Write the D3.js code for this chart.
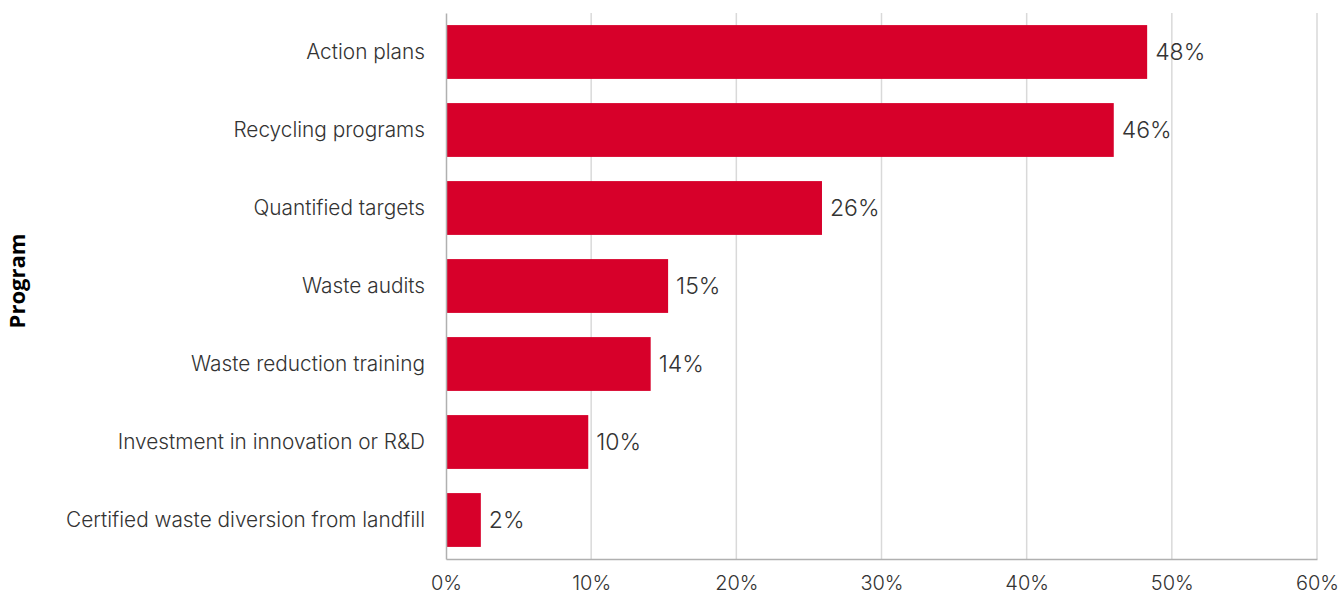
<!DOCTYPE html>
<html>
<head>
<meta charset="utf-8">
<script src="https://cdn.jsdelivr.net/npm/d3@7"></script>
<style>
  html, body { margin: 0; padding: 0; background: #fff; }
  svg { display: block; }
</style>
</head>
<body>
<svg id="chart" width="1343" height="597"></svg>
<script>
// Share of companies running each waste program
const programs = [
  "Action plans",
  "Recycling programs",
  "Quantified targets",
  "Waste audits",
  "Waste reduction training",
  "Investment in innovation or R&D",
  "Certified waste diversion from landfill"
];
const shares = [0.483, 0.460, 0.259, 0.153, 0.141, 0.098, 0.024];
const xTicks = [0, 0.1, 0.2, 0.3, 0.4, 0.5, 0.6];
const axisTitle = "Program";

const data = programs.map((p, i) => ({ program: p, value: shares[i] }));

const svg = d3.select("#chart");
const margin = { top: 13, right: 26, bottom: 38, left: 446 };
const width = 1343, height = 597;

const x = d3.scaleLinear()
  .domain([0, 0.6])
  .range([margin.left, width - margin.right]);

const y = d3.scaleBand()
  .domain(programs)
  .range([margin.top, height - margin.bottom])
  .paddingInner(0.31)
  .paddingOuter(0.155);

const fmt = d3.format(".0%");
const textColor = "#333";
const labelFont = "Inter, Roboto, sans-serif";

// vertical gridlines
svg.append("g")
  .selectAll("line")
  .data(xTicks.slice(1))
  .join("line")
  .attr("x1", d => x(d)).attr("x2", d => x(d))
  .attr("y1", margin.top).attr("y2", height - margin.bottom)
  .attr("stroke", "#d9d9d9")
  .attr("stroke-width", 1.5);

// bars
svg.append("g")
  .selectAll("rect")
  .data(data)
  .join("rect")
  .attr("x", x(0))
  .attr("y", d => y(d.program))
  .attr("width", d => x(d.value) - x(0))
  .attr("height", y.bandwidth())
  .attr("fill", "#d7002a");

// value labels
svg.append("g")
  .selectAll("text")
  .data(data)
  .join("text")
  .attr("x", d => x(d.value) + 8)
  .attr("y", d => y(d.program) + y.bandwidth() / 2)
  .attr("dy", "0.36em")
  .attr("font-family", labelFont)
  .attr("font-weight", 300)
  .attr("font-size", 23)
  .attr("fill", textColor)
  .text(d => fmt(d.value));

// bottom axis
const xAxis = d3.axisBottom(x)
  .tickValues(xTicks)
  .tickFormat(fmt)
  .tickSize(0)
  .tickPadding(17);

const gx = svg.append("g")
  .attr("transform", `translate(0,${height - margin.bottom})`)
  .call(xAxis);
gx.select(".domain").attr("stroke", "#b0b0b0").attr("stroke-width", 1.5);
gx.selectAll("text")
  .attr("font-family", labelFont)
  .attr("font-weight", 300)
  .attr("font-size", 20)
  .attr("fill", textColor);

// left axis
const yAxis = d3.axisLeft(y).tickSize(0).tickPadding(21);
const gy = svg.append("g")
  .attr("transform", `translate(${margin.left},0)`)
  .call(yAxis);
gy.select(".domain").attr("stroke", "#b0b0b0").attr("stroke-width", 1.5);
gy.selectAll("text")
  .attr("font-family", labelFont)
  .attr("font-weight", 300)
  .attr("font-size", 20.8)
  .attr("fill", textColor);

// axis title
svg.append("text")
  .attr("transform", `translate(25,281) rotate(-90)`)
  .attr("text-anchor", "middle")
  .attr("font-family", "'Open Sans', sans-serif")
  .attr("font-weight", 700)
  .attr("font-size", 22)
  .attr("fill", "#000")
  .text(axisTitle);
</script>
</body>
</html>
